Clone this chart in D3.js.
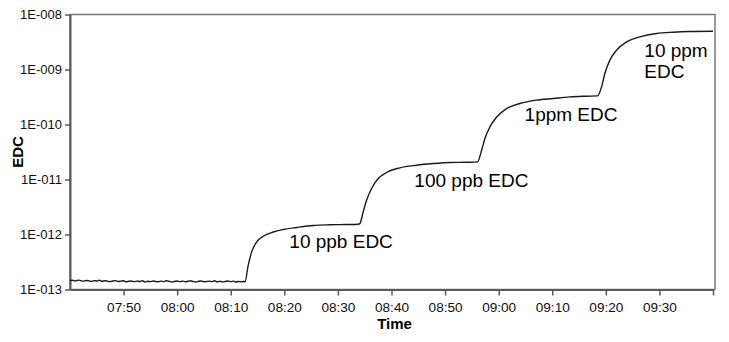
<!DOCTYPE html>
<html>
<head>
<meta charset="utf-8">
<script src="https://cdn.jsdelivr.net/npm/d3@7"></script>
<style>
  body { margin: 0; background: white; }
  text { font-family: Arial, "Liberation Sans", sans-serif; }
</style>
</head>
<body>
<div id="container"></div>
<script>
let w = 729;
let h = 342;

// baseline before the first injection, one reading every 30 s from 07:40:00
let baseStart = "07:40:00";
let baseStepSec = 30;
let baseValues = [
  1.46, 1.47, 1.43, 1.48, 1.45, 1.42, 1.46, 1.44, 1.40, 1.45, 1.43, 1.47,
  1.41, 1.44, 1.42, 1.39, 1.43, 1.45, 1.40, 1.42, 1.44, 1.38, 1.41, 1.43,
  1.39, 1.42, 1.40, 1.44, 1.37, 1.41, 1.39, 1.43, 1.40, 1.38, 1.42, 1.39,
  1.44, 1.41, 1.37, 1.40, 1.43, 1.39, 1.42, 1.38, 1.41, 1.44, 1.39, 1.37,
  1.41, 1.43, 1.38, 1.40, 1.42, 1.39, 1.44, 1.38, 1.41, 1.37, 1.40, 1.43,
  1.39, 1.42, 1.37, 1.40, 1.38, 1.41
].map(v => v * 1e-13);

// the four concentration steps
let stepTimes = [
  "08:12:39", "08:13:16", "08:13:54", "08:14:50", "08:16:04", "08:17:56",
  "08:19:48", "08:22:18", "08:25:24", "08:28:30", "08:31:37", "08:33:47",
  "08:34:06", "08:34:43", "08:35:21", "08:36:17", "08:37:31", "08:39:05",
  "08:41:34", "08:44:41", "08:47:47", "08:50:54", "08:54:01", "08:56:04",
  "08:56:49", "08:57:26", "08:58:22", "08:59:37", "09:01:29", "09:03:58",
  "09:07:04", "09:10:10", "09:13:17", "09:16:24", "09:18:27",
  "09:19:12", "09:19:49", "09:20:45", "09:22:00", "09:23:52", "09:26:21",
  "09:29:28", "09:32:34", "09:35:40", "09:40:00"
];
let stepValues = [
  1.37e-13, 2.77e-13, 4.83e-13, 7.33e-13, 9.31e-13, 1.11e-12,
  1.23e-12, 1.34e-12, 1.46e-12, 1.50e-12, 1.52e-12, 1.54e-12,
  1.58e-12, 2.58e-12, 4.20e-12, 6.86e-12, 1.04e-11, 1.34e-11,
  1.63e-11, 1.82e-11, 1.95e-11, 2.04e-11, 2.06e-11, 2.09e-11,
  3.41e-11, 5.56e-11, 9.04e-11, 1.37e-10, 1.95e-10, 2.41e-10,
  2.77e-10, 2.97e-10, 3.18e-10, 3.27e-10, 3.31e-10,
  4.83e-10, 8.46e-10, 1.48e-9, 2.24e-9, 3.18e-9, 3.92e-9,
  4.52e-9, 4.77e-9, 4.91e-9, 4.97e-9
];

let yTicks = [1e-13, 1e-12, 1e-11, 1e-10, 1e-9, 1e-8];
let xTicks = ["07:50", "08:00", "08:10", "08:20", "08:30", "08:40",
              "08:50", "09:00", "09:10", "09:20", "09:30", "09:40"];
let xTickLabels = ["07:50", "08:00", "08:10", "08:20", "08:30", "08:40",
                   "08:50", "09:00", "09:10", "09:20", "09:30", ""];

let notes = [
  { lines: ["10 ppb EDC"], t: "08:20:56", v: 5.75e-13 },
  { lines: ["100 ppb EDC"], t: "08:44:16", v: 7.3e-12 },
  { lines: ["1ppm EDC"], t: "09:04:50", v: 1.17e-10 },
  { lines: ["10 ppm", "EDC"], t: "09:27:11", v: 1.67e-9 }
];

let parseTime = d3.timeParse("%H:%M:%S");
let parseHM = d3.timeParse("%H:%M");

let data = [];
let t0 = parseTime(baseStart);
baseValues.forEach(function(v, i){
  data.push({ t: d3.timeSecond.offset(t0, i * baseStepSec), v: v });
});
stepTimes.forEach(function(s, i){
  data.push({ t: parseTime(s), v: stepValues[i] });
});

let viz = d3.select("#container")
  .append("svg")
    .attr("width", w)
    .attr("height", h)
    .style("background-color", "white")
;

let plotLeft = 70, plotRight = 713, plotTop = 14.5, plotBottom = 289.5;

let xScale = d3.scaleTime()
  .domain([parseHM("07:40"), parseHM("09:40")])
  .range([plotLeft, plotRight]);
let yScale = d3.scaleLog()
  .domain([1e-13, 1e-8])
  .range([plotBottom, plotTop]);

// frame
viz.append("rect")
  .attr("x", plotLeft)
  .attr("y", plotTop)
  .attr("width", 715 - plotLeft)
  .attr("height", plotBottom - plotTop)
  .attr("fill", "none")
  .attr("stroke", "#7a7a7a")
  .attr("stroke-width", 1.5);

function yLabel(d){
  let e = Math.round(Math.log10(d));
  return "1E-" + String(-e).padStart(3, "0");
}

let yAxis = viz.append("g")
  .attr("transform", "translate(" + plotLeft + ",0)")
  .call(d3.axisLeft(yScale).tickValues(yTicks).tickFormat(yLabel)
    .tickSize(5).tickSizeOuter(0).tickPadding(3));

let xAxis = viz.append("g")
  .attr("transform", "translate(0," + plotBottom + ")")
  .call(d3.axisBottom(xScale).tickValues(xTicks.map(parseHM))
    .tickFormat((d, i) => xTickLabels[i])
    .tickSize(6).tickSizeOuter(0).tickPadding(7));

[yAxis, xAxis].forEach(function(a){
  a.select(".domain").attr("stroke", "#5a5a5a").attr("stroke-width", 2);
  a.selectAll(".tick line").attr("stroke", "#5a5a5a").attr("stroke-width", 1.5);
  a.selectAll(".tick text")
    .attr("fill", "#111")
    .style("font-family", "Arial, 'Liberation Sans', sans-serif");
});
yAxis.selectAll(".tick text").style("font-size", "13px");
xAxis.selectAll(".tick text").style("font-size", "13.6px");

// series
let line = d3.line()
  .x(d => xScale(d.t))
  .y(d => yScale(d.v))
  .curve(d3.curveMonotoneX);

viz.append("path")
  .datum(data)
  .attr("d", line)
  .attr("fill", "none")
  .attr("stroke", "#1a1a1a")
  .attr("stroke-width", 1.4);

// annotations
notes.forEach(function(n){
  let tx = viz.append("text")
    .attr("x", xScale(parseTime(n.t)))
    .attr("y", yScale(n.v))
    .style("font-size", "19px")
    .attr("fill", "#000");
  n.lines.forEach(function(l, i){
    tx.append("tspan")
      .attr("x", xScale(parseTime(n.t)))
      .attr("dy", i == 0 ? 0 : 21)
      .text(l);
  });
});

// axis titles
viz.append("text")
  .attr("x", (plotLeft + plotRight) / 2 + 3)
  .attr("y", 329)
  .attr("text-anchor", "middle")
  .style("font-size", "15px")
  .style("font-weight", "bold")
  .text("Time");

viz.append("text")
  .attr("transform", "translate(23,152) rotate(-90)")
  .attr("text-anchor", "middle")
  .style("font-size", "15px")
  .style("font-weight", "bold")
  .text("EDC");
</script>
</body>
</html>
